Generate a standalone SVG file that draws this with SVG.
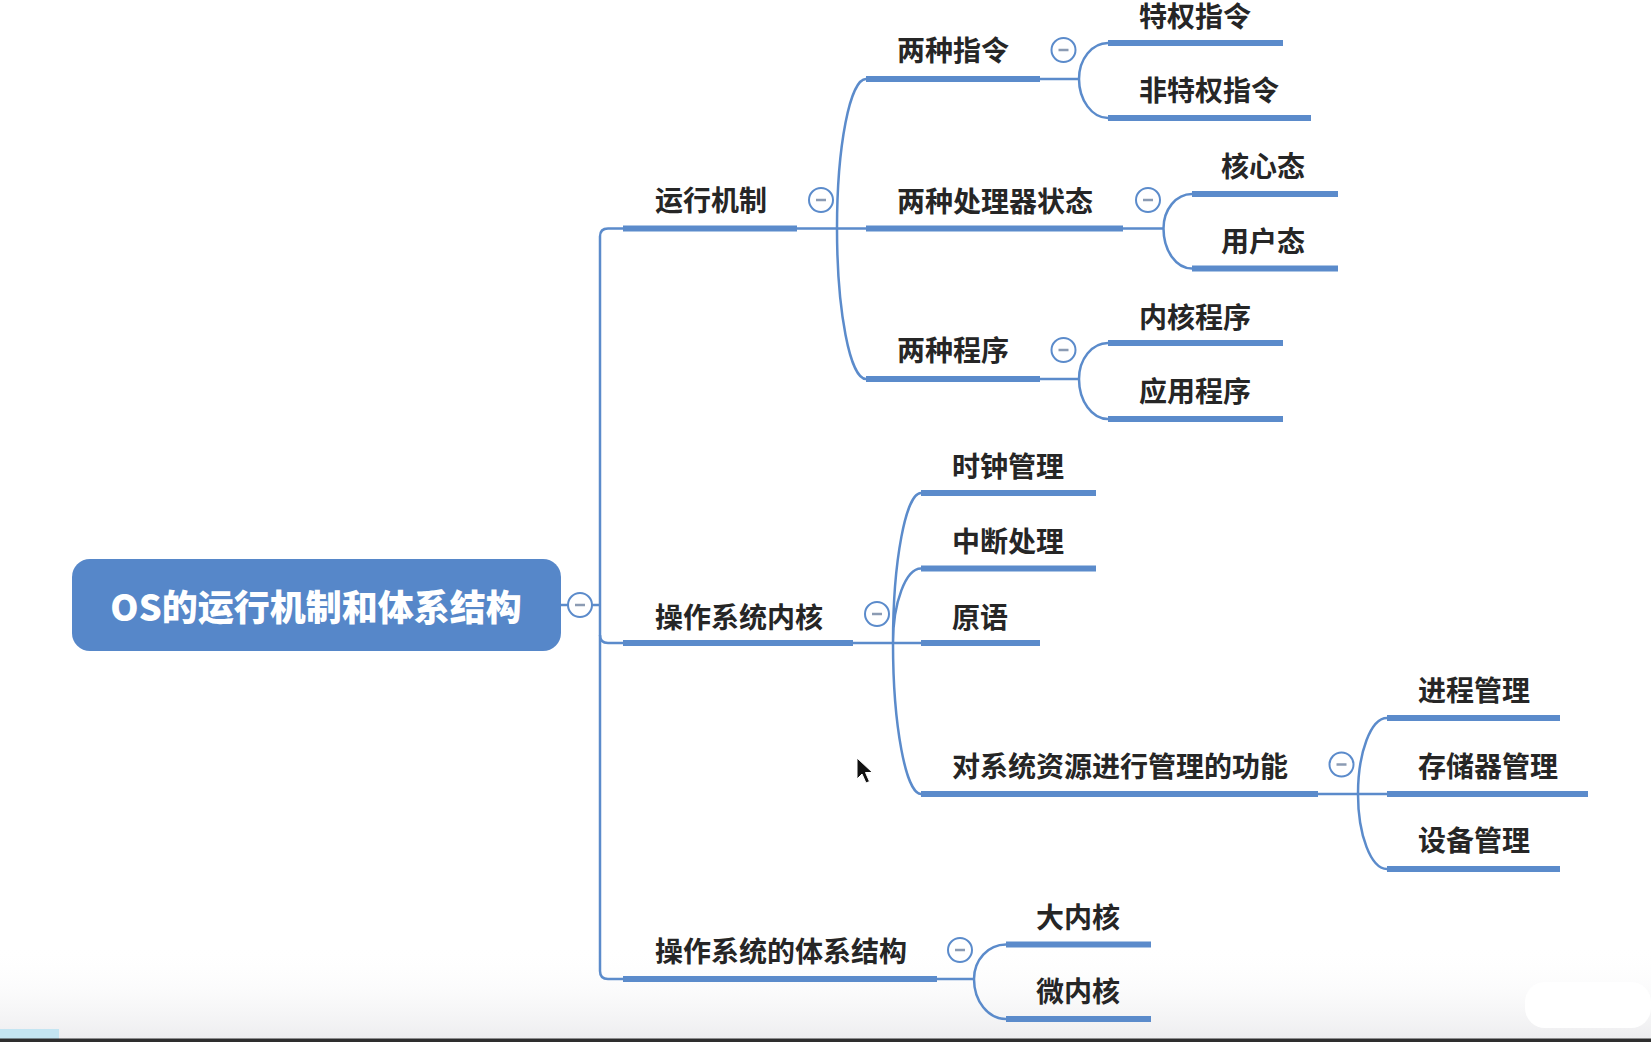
<svg xmlns="http://www.w3.org/2000/svg" width="1651" height="1042" viewBox="0 0 1651 1042">
<defs>
<linearGradient id="bot" x1="0" y1="0" x2="0" y2="1">
<stop offset="0" stop-color="#ffffff" stop-opacity="0"/>
<stop offset="1" stop-color="#ededef"/>
</linearGradient>
<style>
.t{font-family:"Noto Sans CJK SC","Noto Sans",sans-serif;font-size:28px;font-weight:600;fill:#262626}
.root{font-family:"Noto Sans CJK SC","Noto Sans",sans-serif;font-size:36px;font-weight:900;fill:#ffffff}
.ul{stroke:#5b8bcb;stroke-width:6;fill:none}
.c{stroke:#5b8bcb;stroke-width:2.5;fill:none}
.tg{fill:#ffffff;stroke:#5b8bcb;stroke-width:2}
.mn{stroke:#8b9bb3;stroke-width:2.5}
</style>
</defs>
<rect width="1651" height="1042" fill="#ffffff"/>
<rect x="0" y="945" width="1651" height="94" fill="url(#bot)"/>
<rect x="1525" y="982" width="126" height="46" rx="20" fill="#ffffff"/>
<rect x="0" y="1029" width="59" height="10" fill="#c4e5f2"/>
<rect x="0" y="1038.5" width="1651" height="3.5" fill="#2e2e2e"/>

<g id="connectors">
<path class="c" d="M561,605 L600,605"/>
<path class="c" d="M623,228.5 L608,228.5 Q600,228.5 600,236.5 L600,971 Q600,979 608,979 L623,979"/>
<path class="c" d="M600,635 Q600,643 608,643 L623,643"/>
<path class="c" d="M797,228.5 L837,228.5 M837,228.5 C837,146 850,79 866,79 M837,228.5 L866,228.5 M837,228.5 C837,311 850,379 866,379"/>
<path class="c" d="M1040,79 L1079,79 M1079,79 C1079,59 1092,43 1108,43 M1079,79 C1079,100 1092,118 1108,118"/>
<path class="c" d="M1123,228.5 L1163.5,228.5 M1163.5,228.5 C1163.5,209.5 1176,194 1192,194 M1163.5,228.5 C1163.5,250.5 1176,268.5 1192,268.5"/>
<path class="c" d="M1040,379 L1079,379 M1079,379 C1079,359 1092,343 1108,343 M1079,379 C1079,401 1092,419 1108,419"/>
<path class="c" d="M853,643 L893,643 M893,643 C893,560 906,493 921,493 M893,643 C893,602 906,568.5 921,568.5 M893,643 L921,643 M893,643 C893,726 906,794 921,794"/>
<path class="c" d="M1318,794 L1358,794 M1358,794 C1358,752 1371,718 1387,718 M1358,794 L1387,794 M1358,794 C1358,835 1371,869 1387,869"/>
<path class="c" d="M937,979 L974,979 M974,979 C974,960 988,944.5 1006,944.5 M974,979 C974,1001 988,1019 1006,1019"/>
</g>

<g id="root">
<rect x="72" y="559" width="489" height="92" rx="18" fill="#5687c9"/>
<text class="root" x="316" y="621" text-anchor="middle">OS的运行机制和体系结构</text>
<circle class="tg" cx="580" cy="605" r="12"/><line class="mn" x1="575" y1="605" x2="585" y2="605"/>
</g>

<g id="n-yunxing">
<text class="t" x="655" y="211">运行机制</text>
<line class="ul" x1="623" y1="228.5" x2="797" y2="228.5"/>
<circle class="tg" cx="821" cy="200" r="12"/><line class="mn" x1="816" y1="200" x2="826" y2="200"/>
</g>
<g id="n-neihe">
<text class="t" x="655" y="628">操作系统内核</text>
<line class="ul" x1="623" y1="643" x2="853" y2="643"/>
<circle class="tg" cx="877" cy="614" r="12"/><line class="mn" x1="872" y1="614" x2="882" y2="614"/>
</g>
<g id="n-tixi">
<text class="t" x="655" y="962">操作系统的体系结构</text>
<line class="ul" x1="623" y1="979" x2="937" y2="979"/>
<circle class="tg" cx="960" cy="950" r="12"/><line class="mn" x1="955" y1="950" x2="965" y2="950"/>
</g>

<g id="n-zhiling">
<text class="t" x="897" y="61">两种指令</text>
<line class="ul" x1="866" y1="79" x2="1040" y2="79"/>
<circle class="tg" cx="1063.5" cy="50" r="12"/><line class="mn" x1="1058.5" y1="50" x2="1068.5" y2="50"/>
</g>
<g id="n-zhuangtai">
<text class="t" x="897" y="212">两种处理器状态</text>
<line class="ul" x1="866" y1="228.5" x2="1123" y2="228.5"/>
<circle class="tg" cx="1148" cy="200" r="12"/><line class="mn" x1="1143" y1="200" x2="1153" y2="200"/>
</g>
<g id="n-chengxu">
<text class="t" x="897" y="361">两种程序</text>
<line class="ul" x1="866" y1="379" x2="1040" y2="379"/>
<circle class="tg" cx="1063.5" cy="350" r="12"/><line class="mn" x1="1058.5" y1="350" x2="1068.5" y2="350"/>
</g>

<g id="n-tequan">
<text class="t" x="1139" y="27">特权指令</text>
<line class="ul" x1="1108" y1="43" x2="1283" y2="43"/>
</g>
<g id="n-feitequan">
<text class="t" x="1139" y="101">非特权指令</text>
<line class="ul" x1="1108" y1="118" x2="1311" y2="118"/>
</g>
<g id="n-hexin">
<text class="t" x="1221" y="177">核心态</text>
<line class="ul" x1="1192" y1="194" x2="1338" y2="194"/>
</g>
<g id="n-yonghu">
<text class="t" x="1221" y="252">用户态</text>
<line class="ul" x1="1192" y1="268.5" x2="1338" y2="268.5"/>
</g>
<g id="n-neihechengxu">
<text class="t" x="1139" y="328">内核程序</text>
<line class="ul" x1="1108" y1="343" x2="1283" y2="343"/>
</g>
<g id="n-yingyong">
<text class="t" x="1139" y="402">应用程序</text>
<line class="ul" x1="1108" y1="419" x2="1283" y2="419"/>
</g>

<g id="n-shizhong">
<text class="t" x="952" y="477">时钟管理</text>
<line class="ul" x1="921" y1="493" x2="1096" y2="493"/>
</g>
<g id="n-zhongduan">
<text class="t" x="952" y="552">中断处理</text>
<line class="ul" x1="921" y1="568.5" x2="1096" y2="568.5"/>
</g>
<g id="n-yuanyu">
<text class="t" x="952" y="628">原语</text>
<line class="ul" x1="921" y1="643" x2="1040" y2="643"/>
</g>
<g id="n-ziyuan">
<text class="t" x="952" y="777">对系统资源进行管理的功能</text>
<line class="ul" x1="921" y1="794" x2="1318" y2="794"/>
<circle class="tg" cx="1341.5" cy="764.5" r="12"/><line class="mn" x1="1336.5" y1="764.5" x2="1346.5" y2="764.5"/>
</g>

<g id="n-jincheng">
<text class="t" x="1418" y="701">进程管理</text>
<line class="ul" x1="1387" y1="718" x2="1560" y2="718"/>
</g>
<g id="n-cunchu">
<text class="t" x="1418" y="777">存储器管理</text>
<line class="ul" x1="1387" y1="794" x2="1588" y2="794"/>
</g>
<g id="n-shebei">
<text class="t" x="1418" y="851">设备管理</text>
<line class="ul" x1="1387" y1="869" x2="1560" y2="869"/>
</g>

<g id="n-daneihe">
<text class="t" x="1036" y="928">大内核</text>
<line class="ul" x1="1006" y1="944.5" x2="1151" y2="944.5"/>
</g>
<g id="n-weineihe">
<text class="t" x="1036" y="1002">微内核</text>
<line class="ul" x1="1006" y1="1019" x2="1151" y2="1019"/>
</g>

<path d="M857,758 L857,779 L862,774 L866,783 L869.5,781.5 L865.5,772.5 L872.5,772.5 Z" fill="#111111" stroke="#ffffff" stroke-width="1"/>
</svg>
